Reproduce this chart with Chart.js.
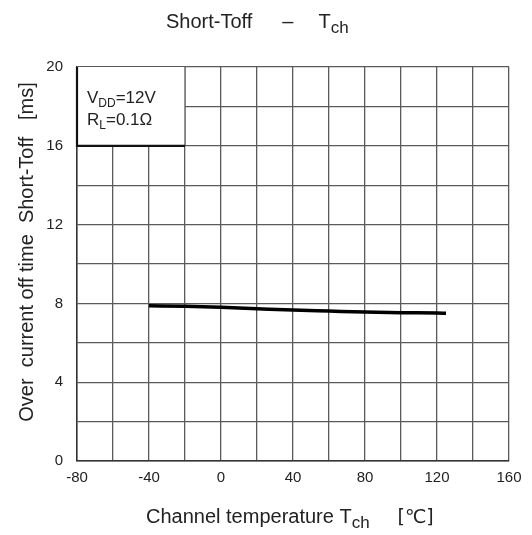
<!DOCTYPE html>
<html>
<head>
<meta charset="utf-8">
<title>Short-Toff - Tch</title>
<script src="https://cdn.jsdelivr.net/npm/chart.js@4.4.1/dist/chart.umd.min.js"></script>
<style>
  html, body { margin: 0; padding: 0; background: #fff; }
  #wrap { width: 532px; height: 535px; }
</style>
</head>
<body>
<div id="wrap"><canvas id="toffChart" width="532" height="535"></canvas></div>
<script>
// Over current off time vs channel temperature
const tempC = [-40, -20, 0, 20, 40, 60, 80, 100, 120, 125];
const toffMs = [7.88, 7.85, 7.80, 7.73, 7.66, 7.61, 7.56, 7.53, 7.51, 7.50];

const xTickStep = 20;
const yTickStep = 2;
const xLabelEvery = 40;
const yLabelEvery = 4;

// condition box sits in the upper-left cell block
const condBox = { xMin: -80, xMax: -20, yMin: 16, yMax: 20 };

const FONT = '"Liberation Sans", Arial, sans-serif';

// draws text runs left to right, with optional subscript runs
function drawRuns(ctx, runs, x, y) {
  let cx = x;
  runs.forEach(r => {
    ctx.font = (r.size || 20) + 'px ' + (r.family || FONT);
    ctx.fillText(r.text, cx, y + (r.dy || 0));
    cx += ctx.measureText(r.text).width + (r.gap || 0);
  });
}

const labelsPlugin = {
  id: 'labelsPlugin',
  beforeDatasetsDraw(chart) {
    const { ctx, scales: { x, y } } = chart;
    // white condition box with heavy border
    const l = x.getPixelForValue(condBox.xMin);
    const r = x.getPixelForValue(condBox.xMax);
    const t = y.getPixelForValue(condBox.yMax);
    const b = y.getPixelForValue(condBox.yMin);
    ctx.save();
    ctx.fillStyle = '#fff';
    ctx.fillRect(l, t, r - l, b - t);
    ctx.strokeStyle = '#5a5a5a';
    ctx.lineWidth = 1.3;
    ctx.beginPath();
    ctx.moveTo(r, t); ctx.lineTo(r, b);
    ctx.stroke();
    ctx.strokeStyle = '#111';
    ctx.lineWidth = 2.2;
    ctx.beginPath();
    ctx.moveTo(l, t); ctx.lineTo(l, b); ctx.lineTo(r, b);
    ctx.stroke();
    ctx.fillStyle = '#222';
    ctx.textBaseline = 'alphabetic';
    drawRuns(ctx, [
      { text: 'V', size: 17 },
      { text: 'DD', size: 12, dy: 4 },
      { text: '=12V', size: 17 }
    ], l + 10, t + 36);
    drawRuns(ctx, [
      { text: 'R', size: 17 },
      { text: 'L', size: 12, dy: 4 },
      { text: '=0.1\u03a9', size: 17 }
    ], l + 10, t + 58);
    ctx.restore();
  },
  afterDraw(chart) {
    const { ctx } = chart;
    ctx.save();
    ctx.fillStyle = '#222';
    ctx.textBaseline = 'alphabetic';
    // chart title
    drawRuns(ctx, [
      { text: 'Short-Toff', gap: 30 },
      { text: '\u2013', gap: 25 },
      { text: 'T' },
      { text: 'ch', size: 17, dy: 5 }
    ], 166, 28);
    // x axis title
    drawRuns(ctx, [
      { text: 'Channel temperature T' },
      { text: 'ch', size: 17, dy: 5, gap: 28 },
      { text: '[\u2103]', family: '"DejaVu Sans", sans-serif', size: 19 }
    ], 146, 523);
    // y axis title
    ctx.translate(33, 252);
    ctx.rotate(-Math.PI / 2);
    ctx.font = '20px ' + FONT;
    ctx.textAlign = 'center';
    ctx.fillText('Over  current off time  Short-Toff   [ms]', 0, 0);
    ctx.restore();
  }
};

new Chart(document.getElementById('toffChart'), {
  type: 'line',
  data: {
    datasets: [{
      data: tempC.map((t, i) => ({ x: t, y: toffMs[i] })),
      borderColor: '#000',
      borderWidth: 3.5,
      pointRadius: 0,
      cubicInterpolationMode: 'monotone',
      fill: false
    }]
  },
  options: {
    responsive: false,
    animation: false,
    layout: { padding: { left: 0, top: 67, right: 23, bottom: 0 } },
    plugins: { legend: { display: false }, title: { display: false }, tooltip: { enabled: false } },
    scales: {
      x: {
        type: 'linear',
        min: -80,
        max: 160,
        afterFit: s => { s.height = 74; },
        ticks: {
          stepSize: xTickStep,
          padding: 8,
          color: '#222',
          font: { family: FONT, size: 15 },
          maxRotation: 0,
          autoSkip: false,
          callback: v => (v % xLabelEvery === 0 ? String(v) : '')
        },
        grid: { color: '#5a5a5a', lineWidth: 1.3, drawTicks: false },
        border: { color: '#333', width: 1.5 }
      },
      y: {
        type: 'linear',
        min: 0,
        max: 20,
        afterFit: s => { s.width = 77; },
        ticks: {
          stepSize: yTickStep,
          padding: 14,
          color: '#222',
          font: { family: FONT, size: 15 },
          autoSkip: false,
          callback: v => (v % yLabelEvery === 0 ? String(v) : '')
        },
        grid: { color: '#5a5a5a', lineWidth: 1.3, drawTicks: false },
        border: { color: '#333', width: 1.5 }
      }
    }
  },
  plugins: [labelsPlugin]
});
</script>
</body>
</html>
